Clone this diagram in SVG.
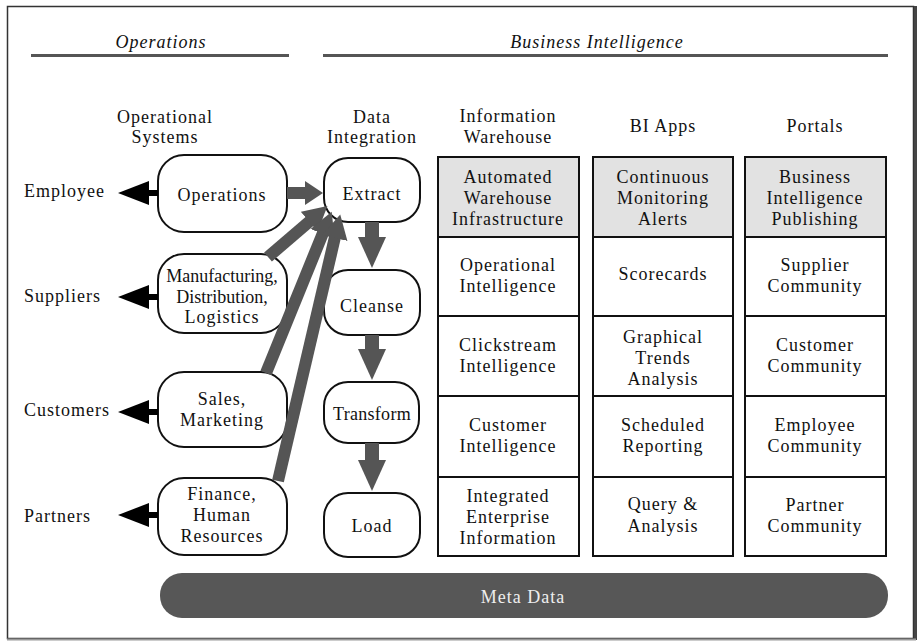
<svg xmlns="http://www.w3.org/2000/svg" width="918" height="644" viewBox="0 0 918 644">
<style>
text{font-family:"Liberation Serif","Times New Roman",serif;font-size:18px;fill:#111;letter-spacing:1px;text-anchor:middle}
.it{font-style:italic}
.lft{text-anchor:start}
.node{fill:#fff;stroke:#111;stroke-width:2}
.cell{fill:#fff;stroke:#111;stroke-width:2}
.hdr{fill:#e2e2e2;stroke:#111;stroke-width:2}
.g{stroke:#555;fill:none}
.b{stroke:#000;fill:none;stroke-width:6}
</style>
<defs>
<marker id="hv" markerUnits="userSpaceOnUse" markerWidth="32" markerHeight="30" viewBox="0 -15 32 30" refX="1" refY="0" orient="auto"><path d="M0,-14 L31,0 L0,14 z" fill="#555"/></marker>
<marker id="hh" markerUnits="userSpaceOnUse" markerWidth="20" markerHeight="28" viewBox="0 -14 20 28" refX="1" refY="0" orient="auto"><path d="M0,-12 L18,0 L0,12 z" fill="#555"/></marker>
<marker id="hd" markerUnits="userSpaceOnUse" markerWidth="26" markerHeight="28" viewBox="0 -14 26 28" refX="1" refY="0" orient="auto"><path d="M0,-13 L24,0 L0,13 z" fill="#555"/></marker>
<marker id="hb" markerUnits="userSpaceOnUse" markerWidth="32" markerHeight="28" viewBox="0 -14 32 28" refX="1" refY="0" orient="auto"><path d="M0,-12 L31,0 L0,12 z" fill="#000"/></marker>
</defs>
<rect x="0" y="0" width="918" height="644" fill="#fff"/>
<rect x="7.5" y="6.5" width="906" height="632" fill="#fff" stroke="#333" stroke-width="1.5"/>
<line x1="915.5" y1="6" x2="915.5" y2="640" stroke="#444" stroke-width="3"/>
<line x1="7" y1="639.5" x2="916" y2="639.5" stroke="#999" stroke-width="2"/>

<g id="headers">
<text class="it" x="161" y="48">Operations</text>
<line x1="31" y1="55.5" x2="289" y2="55.5" stroke="#555" stroke-width="3"/>
<text class="it" x="597" y="48">Business Intelligence</text>
<line x1="323" y1="55.5" x2="888" y2="55.5" stroke="#555" stroke-width="3"/>
<text x="165" y="123">Operational</text>
<text x="165" y="143">Systems</text>
<text x="372" y="123">Data</text>
<text x="372" y="143">Integration</text>
<text x="508" y="122">Information</text>
<text x="508" y="143">Warehouse</text>
<text x="663" y="132">BI Apps</text>
<text x="815" y="132">Portals</text>
</g>

<g id="labels">
<text class="lft" x="24" y="197">Employee</text>
<text class="lft" x="24" y="302">Suppliers</text>
<text class="lft" x="24" y="416">Customers</text>
<text class="lft" x="24" y="522">Partners</text>
</g>

<g id="operations"><rect class="node" x="158" y="155" width="129" height="77" rx="26"/><text x="222" y="201">Operations</text></g>
<g id="manufacturing"><rect class="node" x="158" y="254" width="129" height="79" rx="26"/><text x="222" y="282" style="letter-spacing:0">Manufacturing,</text><text x="222" y="303" style="letter-spacing:0">Distribution,</text><text x="222" y="323">Logistics</text></g>
<g id="sales"><rect class="node" x="158" y="372" width="129" height="75" rx="26"/><text x="222" y="405">Sales,</text><text x="222" y="426">Marketing</text></g>
<g id="finance"><rect class="node" x="158" y="478" width="129" height="77" rx="26"/><text x="222" y="500">Finance,</text><text x="222" y="521">Human</text><text x="222" y="542">Resources</text></g>

<g id="extract"><rect class="node" x="324" y="158" width="96" height="64" rx="24"/><text x="372" y="200">Extract</text></g>
<g id="cleanse"><rect class="node" x="324" y="270" width="96" height="65" rx="24"/><text x="372" y="312">Cleanse</text></g>
<g id="transform"><rect class="node" x="324" y="382" width="95" height="61" rx="24"/><text x="372" y="420" style="letter-spacing:0.3px">Transform</text></g>
<g id="load"><rect class="node" x="324" y="493" width="96" height="64" rx="24"/><text x="372" y="532">Load</text></g>

<g id="warehouse">
<rect class="hdr" x="438" y="157" width="141" height="80"/>
<rect class="cell" x="438" y="237" width="141" height="79"/>
<rect class="cell" x="438" y="316" width="141" height="80"/>
<rect class="cell" x="438" y="396" width="141" height="81"/>
<rect class="cell" x="438" y="477" width="141" height="79"/>
<text x="508" y="183">Automated</text><text x="508" y="204">Warehouse</text><text x="508" y="225">Infrastructure</text>
<text x="508" y="271">Operational</text><text x="508" y="292">Intelligence</text>
<text x="508" y="351">Clickstream</text><text x="508" y="372">Intelligence</text>
<text x="508" y="431">Customer</text><text x="508" y="452">Intelligence</text>
<text x="508" y="502">Integrated</text><text x="508" y="523">Enterprise</text><text x="508" y="544">Information</text>
</g>

<g id="biapps">
<rect class="hdr" x="593" y="157" width="140" height="80"/>
<rect class="cell" x="593" y="237" width="140" height="79"/>
<rect class="cell" x="593" y="316" width="140" height="80"/>
<rect class="cell" x="593" y="396" width="140" height="81"/>
<rect class="cell" x="593" y="477" width="140" height="79"/>
<text x="663" y="183">Continuous</text><text x="663" y="204">Monitoring</text><text x="663" y="225">Alerts</text>
<text x="663" y="280">Scorecards</text>
<text x="663" y="343">Graphical</text><text x="663" y="364">Trends</text><text x="663" y="385">Analysis</text>
<text x="663" y="431">Scheduled</text><text x="663" y="452">Reporting</text>
<text x="663" y="510">Query &amp;</text><text x="663" y="532">Analysis</text>
</g>

<g id="portals">
<rect class="hdr" x="745" y="157" width="141" height="80"/>
<rect class="cell" x="745" y="237" width="141" height="79"/>
<rect class="cell" x="745" y="316" width="141" height="80"/>
<rect class="cell" x="745" y="396" width="141" height="81"/>
<rect class="cell" x="745" y="477" width="141" height="79"/>
<text x="815" y="183">Business</text><text x="815" y="204">Intelligence</text><text x="815" y="225">Publishing</text>
<text x="815" y="271">Supplier</text><text x="815" y="292">Community</text>
<text x="815" y="351">Customer</text><text x="815" y="372">Community</text>
<text x="815" y="431">Employee</text><text x="815" y="452">Community</text>
<text x="815" y="511">Partner</text><text x="815" y="532">Community</text>
</g>

<g id="metadata">
<rect x="160" y="573" width="728" height="45" rx="22" fill="#575757"/>
<text x="523" y="603" style="fill:#eee">Meta Data</text>
</g>

<g id="connectors">
<line class="b" x1="158" y1="193" x2="148" y2="193" marker-end="url(#hb)"/>
<line class="b" x1="158" y1="297" x2="148" y2="297" marker-end="url(#hb)"/>
<line class="b" x1="158" y1="412" x2="148" y2="412" marker-end="url(#hb)"/>
<line class="b" x1="158" y1="515" x2="148" y2="515" marker-end="url(#hb)"/>
<line class="g" stroke-width="12" x1="287" y1="193" x2="306" y2="193" marker-end="url(#hh)"/>
<line class="g" stroke-width="12" x1="268" y1="257" x2="310" y2="221" marker-end="url(#hd)"/>
<line class="g" stroke-width="12" x1="266" y1="373" x2="323" y2="233" marker-end="url(#hd)"/>
<line class="g" stroke-width="12" x1="278" y1="481" x2="335" y2="237" marker-end="url(#hd)"/>
<line class="g" stroke-width="14" x1="372" y1="222" x2="372" y2="238" marker-end="url(#hv)"/>
<line class="g" stroke-width="14" x1="372" y1="335" x2="372" y2="350" marker-end="url(#hv)"/>
<line class="g" stroke-width="14" x1="372" y1="443" x2="372" y2="461" marker-end="url(#hv)"/>
</g>
</svg>
